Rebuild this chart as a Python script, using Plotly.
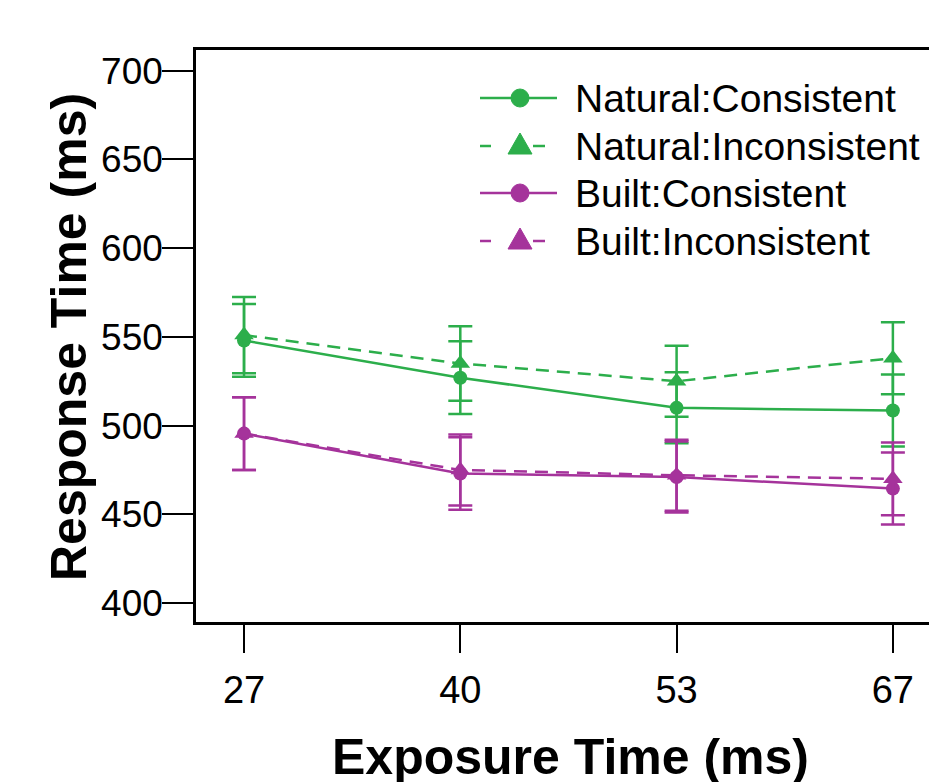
import plotly.graph_objects as go

exposure = ["27", "40", "53", "67"]
nat_con = [548, 527, 510, 508.5]
nat_con_err = [20.5, 20.5, 20, 20.3]
nat_inc = [551, 535, 525, 538]
nat_inc_err = [21.5, 21, 20, 20.3]
blt_con = [495.5, 473, 471, 464.5]
blt_con_err = [20.5, 20.5, 20, 20.3]
blt_inc = [495.5, 475, 472, 470]
blt_inc_err = [20.5, 20, 20, 20.5]

series_names = ["Natural:Consistent", "Natural:Inconsistent",
                "Built:Consistent", "Built:Inconsistent"]

GREEN = "#2cae4b"
MAGENTA = "#a5339b"

series = [
    (series_names[0], nat_con, nat_con_err, GREEN, False, "circle", 14),
    (series_names[1], nat_inc, nat_inc_err, GREEN, True, "triangle-up", 17),
    (series_names[2], blt_con, blt_con_err, MAGENTA, False, "circle", 14),
    (series_names[3], blt_inc, blt_inc_err, MAGENTA, True, "triangle-up", 17),
]

# figure geometry (page has an 8px body margin)
W, H = 929, 774
L, T, B, R = 188, 42, 160, 0
PW, PH = W - L - R, H - T - B


def px_x(p):
    return (p - 8 - L) / PW


def px_y(p):
    return (H - B - (p - 8)) / PH


fig = go.Figure()
for name, vals, errs, col, dashed, sym, sz in series:
    fig.add_trace(go.Scatter(
        x=exposure, y=vals, name=name, mode="lines+markers", showlegend=False,
        line=dict(color=col, width=2.5, dash="13px,8px" if dashed else "solid"),
        marker=dict(color=col, symbol=sym, size=sz),
        error_y=dict(type="data", array=errs, visible=True, color=col,
                     thickness=2.5, width=12),
    ))

shapes = []
annotations = []
row_y = [98, 146, 193, 241]
for (name, vals, errs, col, dashed, sym, sz), ry in zip(series, row_y):
    yp = px_y(ry)
    if dashed:
        for a, b in [(480, 491), (533, 545)]:
            shapes.append(dict(type="line", xref="paper", yref="paper",
                               x0=px_x(a), x1=px_x(b), y0=yp, y1=yp,
                               line=dict(color=col, width=2.5)))
        shapes.append(dict(type="path", xref="paper", yref="paper",
                           xsizemode="pixel", ysizemode="pixel",
                           xanchor=px_x(520), yanchor=yp,
                           path="M-12,-8 L12,-8 L0,13 Z",
                           fillcolor=col, line=dict(color=col, width=1)))
    else:
        shapes.append(dict(type="line", xref="paper", yref="paper",
                           x0=px_x(480), x1=px_x(557), y0=yp, y1=yp,
                           line=dict(color=col, width=2.5)))
        shapes.append(dict(type="circle", xref="paper", yref="paper",
                           xsizemode="pixel", ysizemode="pixel",
                           xanchor=px_x(520), yanchor=yp,
                           x0=-9, x1=9, y0=-9, y1=9,
                           fillcolor=col, line=dict(color=col, width=1)))
    annotations.append(dict(text=name, xref="paper", yref="paper",
                            x=px_x(573), y=yp, xanchor="left", yanchor="middle",
                            showarrow=False, font=dict(size=39)))

annotations.append(dict(text="<b>Response Time (ms)</b>", xref="paper", yref="paper",
                        x=px_x(69), y=px_y(337), textangle=-90, showarrow=False,
                        font=dict(size=50), xanchor="center", yanchor="middle"))
annotations.append(dict(text="<b>Exposure Time (ms)</b>", xref="paper", yref="paper",
                        x=px_x(570), y=px_y(757), showarrow=False,
                        font=dict(size=50), xanchor="center", yanchor="middle"))

fig.update_layout(
    width=W, height=H,
    margin=dict(l=L, r=R, t=T, b=B),
    paper_bgcolor="white", plot_bgcolor="white",
    font=dict(family="Liberation Sans, Arial, sans-serif", color="black", size=37),
    showlegend=False,
    shapes=shapes,
    annotations=annotations,
)

fig.update_xaxes(
    type="category", range=[-0.222, 3.204],
    showline=True, linecolor="black", linewidth=2.5, mirror=True,
    ticks="outside", ticklen=28, tickwidth=2, tickcolor="black",
    tickfont=dict(size=38),
    ticklabelstandoff=5, showgrid=False, zeroline=False,
)
fig.update_yaxes(
    range=[389.3, 711.7], tickvals=[400, 450, 500, 550, 600, 650, 700],
    showline=True, linecolor="black", linewidth=2.5,
    ticks="outside", ticklen=31, tickwidth=2, tickcolor="black",
    ticklabelstandoff=-8,
    showgrid=False, zeroline=False,
)

fig.write_html("out.html")
